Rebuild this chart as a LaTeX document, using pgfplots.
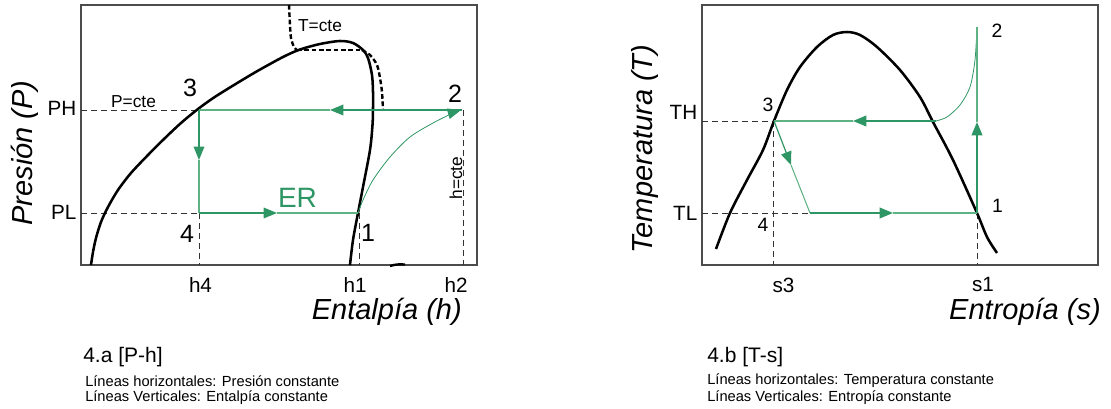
\documentclass[border=0pt]{standalone}
\usepackage{pgfplots}
\pgfplotsset{compat=1.18}
\usepackage{fontspec}
\setmainfont{Liberation Sans}
\usetikzlibrary{arrows.meta}
\definecolor{cyc}{RGB}{46,150,100}
\definecolor{cycl}{RGB}{95,178,130}
\newcommand{\fs}[1]{\fontsize{#1}{#1}\selectfont}
\begin{document}
\begin{tikzpicture}[x=0.75pt,y=0.75pt]
\path (0,0) rectangle (1111,-409);
\pgfplotsset{rk/.style={width=297pt,height=195pt,scale only axis,
  axis line style={black!70,line width=0.8pt}, major tick length=0pt,
  tick label style={font=\fs{15.5}}, xticklabel style={yshift=-6pt},
  clip=false, ymin=-265,ymax=-5,
  every axis plot/.append style={line join=round}},
  dsh/.style={black!80,line width=0.6pt,dash pattern=on 4.5pt off 3pt},
  arr/.style={-{Triangle[length=10pt,width=8pt]}}}
% ---------------- P-h ----------------
\begin{axis}[rk, at={(81,-265)}, anchor=south west, xmin=81,xmax=477,
  xtick={200.5,355,456}, xticklabels={h4,h1,h2},
  ytick={-212,-108}, yticklabels={PL,PH}]
\addplot[dsh] coordinates {(81,-110)(199,-110)};
\addplot[dsh] coordinates {(81,-213)(199,-213)};
\addplot[dsh] coordinates {(199,-213)(199,-265)};
\addplot[dsh] coordinates {(359,-213)(359,-265)};
\addplot[dsh] coordinates {(463,-110)(463,-265)};
% dome
\addplot[black, line width=1.9pt, smooth, tension=0.5] coordinates {(91,-265)(93,-252)(96,-238)(101,-222)(108,-207)(118,-190)(131,-173)(148,-155)(164,-139)(181,-123)(198,-109)(214,-97.5)(234,-85)(254,-73)(270,-64)(285,-56)(300,-49.5)(320,-44)(340,-41)(353,-43)(363,-50)(368,-58)(372,-75)(373,-92)(373,-108)(372.5,-125)(370,-150)(363,-187)(358,-213)(353,-240)(350,-265)};
\addplot[black, line width=1.8pt, smooth] coordinates {(390,-266)(397,-264.5)(405,-264.5)};
% T=cte
\addplot[black, line width=1.8pt, dash pattern=on 3.5pt off 2pt, smooth] coordinates {(289,-5)(290,-25)(291,-38)(294,-47)(297,-50)};
\addplot[black, line width=1.8pt, dash pattern=on 3.5pt off 2pt] coordinates {(297,-50)(362,-50)};
\addplot[black, line width=1.8pt, dash pattern=on 3.5pt off 2pt, smooth] coordinates {(362,-50)(370,-55)(377,-65)(380,-78)(382,-92)(383,-110)};
% cycle
\addplot[cyc, line width=0.9pt, arr] coordinates {(462,-110)(330,-110)};
\addplot[cycl, line width=0.8pt] coordinates {(330,-110)(199,-110)};
\addplot[cyc, line width=0.9pt, arr] coordinates {(199,-110)(199,-160)};
\addplot[cycl, line width=0.8pt] coordinates {(199,-160)(199,-213)};
\addplot[cyc, line width=0.9pt, arr] coordinates {(199,-213)(277,-213)};
\addplot[cycl, line width=0.8pt] coordinates {(277,-213)(358,-213)};
\addplot[cyc, line width=0.6pt, smooth, arr] coordinates {(358,-213)(363,-200)(373,-180)(390,-157)(410,-137)(433,-123)(453,-113)(461,-110)};
% labels
\node[font=\fs{18.75}] at (axis cs:190,-88) {3};
\node[font=\fs{18.75}] at (axis cs:455,-94) {2};
\node[font=\fs{18.75}] at (axis cs:187,-234) {4};
\node[font=\fs{18.75}] at (axis cs:368,-233) {1};
\node[font=\fs{21}, text=cyc] at (axis cs:297.5,-198) {ER};
\node[font=\fs{13}] at (axis cs:133.5,-101.5) {P=cte};
\node[font=\fs{13}] at (axis cs:320,-26) {T=cte};
\node[font=\fs{13}, rotate=90] at (axis cs:456,-178) {h=cte};
\end{axis}
% ---------------- T-s ----------------
\begin{axis}[rk, at={(702,-265)}, anchor=south west, xmin=702,xmax=1098,
  xtick={783.5,983}, xticklabels={s3,s1},
  ytick={-213,-112}, yticklabels={TL,TH}]
\addplot[dsh] coordinates {(702,-121)(774,-121)};
\addplot[dsh] coordinates {(702,-213)(810,-213)};
\addplot[dsh] coordinates {(773,-121)(773,-265)};
\addplot[dsh] coordinates {(977,-213)(977,-265)};
% dome
\addplot[black, line width=1.9pt, smooth, tension=0.5] coordinates {(716,-249)(730,-213)(747,-180)(763,-150)(774,-121)(787,-90)(800,-67)(817,-47)(833,-35)(847,-32)(860,-35)(877,-47)(900,-70)(920,-97)(933,-122)(953,-160)(977,-213)(987,-237)(997,-253)};
% cycle
\addplot[cyc, line width=0.6pt, smooth] coordinates {(977,-27)(975,-60)(970,-87)(960,-105)(947,-117)(936,-121)};
\addplot[cyc, line width=1.1pt, arr] coordinates {(936,-121)(853,-121)};
\addplot[cycl, line width=0.8pt] coordinates {(853,-121)(774,-121)};
\addplot[cyc, line width=0.9pt, arr] coordinates {(774,-121)(791,-165)};
\addplot[cycl, line width=0.8pt] coordinates {(791,-165)(810,-213)};
\addplot[cyc, line width=1.1pt, arr] coordinates {(810,-213)(893,-213)};
\addplot[cycl, line width=0.8pt] coordinates {(893,-213)(977,-213)};
\addplot[cyc, line width=1.3pt, arr] coordinates {(977,-213)(977,-122)};
\addplot[cycl, line width=0.8pt] coordinates {(977,-122)(977,-27)};
% labels
\node[font=\fs{14.5}] at (axis cs:768,-105) {3};
\node[font=\fs{14.5}] at (axis cs:997,-31) {2};
\node[font=\fs{14.5}] at (axis cs:997.5,-206) {1};
\node[font=\fs{14.5}] at (axis cs:763,-225) {4};
\end{axis}
% axis titles
\node[font=\fs{21.75}\itshape, rotate=90] at (25,-153) {Presión (P)};
\node[font=\fs{21.75}\itshape, anchor=east, inner sep=0pt] at (462,-312) {Entalpía (h)};
\node[font=\fs{21.75}\itshape, rotate=90] at (645,-149) {Temperatura (T)};
\node[font=\fs{21.75}\itshape, anchor=east, inner sep=0pt] at (1101,-312) {Entropía (s)};
% captions
\node[font=\fs{15.75}, anchor=west, inner sep=0pt] at (83,-357) {4.a [P-h]};
\node[font=\fs{11}, anchor=west, inner sep=0pt] at (85,-381) {Líneas horizontales: Presión constante};
\node[font=\fs{11}, anchor=west, inner sep=0pt] at (85,-398) {Líneas Verticales: Entalpía constante};
\node[font=\fs{15.75}, anchor=west, inner sep=0pt] at (707,-357) {4.b [T-s]};
\node[font=\fs{11}, anchor=west, inner sep=0pt] at (707,-381) {Líneas horizontales: Temperatura constante};
\node[font=\fs{11}, anchor=west, inner sep=0pt] at (707,-398) {Líneas Verticales: Entropía constante};
\end{tikzpicture}
\end{document}
